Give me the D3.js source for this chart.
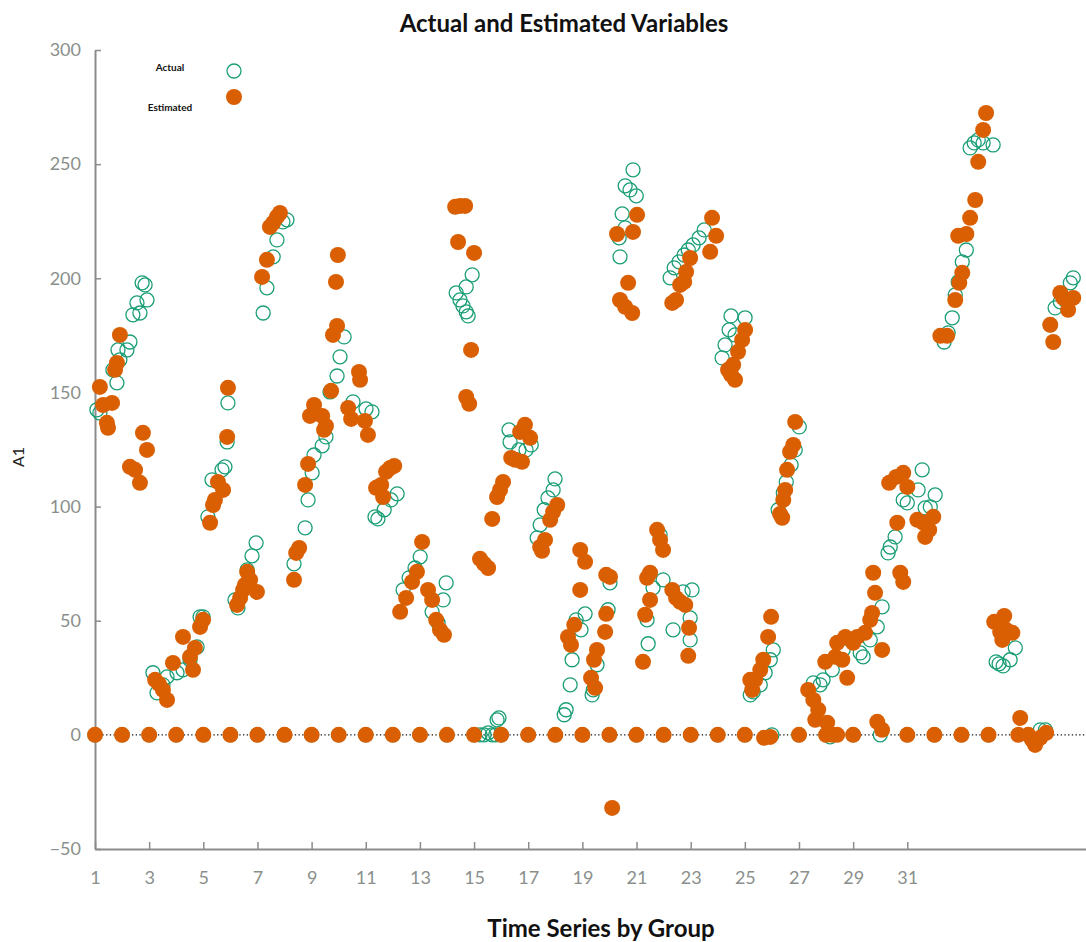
<!DOCTYPE html>
<html>
<head>
<meta charset="utf-8">
<script src="https://cdn.jsdelivr.net/npm/d3@7"></script>
<style>
  html, body { margin: 0; padding: 0; background: #fff; }
  svg { display: block; }
</style>
</head>
<body>
<svg id="chart" width="1086" height="942"></svg>
<script>
// Tick values
const xTicks = [1, 3, 5, 7, 9, 11, 13, 15, 17, 19, 21, 23, 25, 27, 29, 31];
const yTicks = [-50, 0, 50, 100, 150, 200, 250, 300];

// Groups whose first observation sits on zero
const zeroGroups = [1, 2, 3, 4, 5, 6, 7, 8, 9, 10, 11, 12, 13, 14, 15, 16, 17, 18, 19, 20,
                    21, 22, 23, 24, 25, 27, 28, 29, 31, 32, 33, 34];
const zeroGroupsActual = [1, 2, 3, 4, 5, 6, 7, 8, 9, 10, 11, 12, 13, 14, 15, 16, 17, 18, 19, 20,
                          21, 22, 23, 24, 25, 26, 27, 28, 29, 30, 31, 32, 33, 34];

// Actual values: [position on the group axis, A1]
const actualPoints = [
  [1.07,142.4],[1.18,141.0],[1.66,159.9],[1.81,154.2],[1.85,168.6],[1.92,164.3],[2.18,168.6],[2.29,172.1],[2.40,184.0],[2.55,189.2],[2.66,184.8],[2.74,198.0],[2.85,197.1],[2.92,190.5],
  [3.14,27.2],[3.29,18.4],[3.51,21.9],[3.66,25.4],[4.03,27.2],[4.25,28.5],[4.51,32.9],[4.77,38.5],[4.88,51.7],[4.99,51.7],
  [5.17,95.5],[5.32,111.7],[5.69,116.1],[5.80,117.4],[5.88,128.3],[5.91,145.4],
  [6.17,59.1],[6.28,55.6],[6.62,72.3],[6.80,78.4],[6.95,84.1],
  [7.21,184.8],[7.35,195.8],[7.58,209.4],[7.72,216.8],[7.94,224.7],[8.09,225.6],
  [8.35,74.9],[8.76,90.7],[8.87,102.9],[9.02,114.8],[9.09,122.6],[9.39,126.6],[9.53,130.5],[9.68,150.2],[9.94,157.2],[10.05,165.6],[10.20,174.3],
  [10.53,145.9],[11.01,142.8],[11.23,141.5],
  [11.34,95.5],[11.45,94.6],[11.68,98.6],[11.93,102.9],[12.16,105.6],
  [12.38,63.5],[12.60,68.8],[12.82,73.1],[13.01,78.0],
  [13.45,53.9],[13.67,49.1],[13.86,59.1],[13.97,66.6],
  [14.34,193.6],[14.48,190.5],[14.59,187.9],[14.71,185.3],[14.78,183.5],[14.71,196.2],[14.93,201.5],
  [15.22,0],[15.37,0],[15.52,0.9],[15.67,0],[15.80,0],[15.85,6.6],[15.92,7.4],
  [16.29,133.6],[16.33,128.3],[16.66,124.8],[16.92,124.8],[17.11,127.0],
  [17.33,86.3],[17.44,92.0],[17.59,98.6],[17.73,103.8],[17.92,107.3],[17.99,112.1],
  [18.33,8.8],[18.40,11.0],[18.55,21.9],[18.62,32.9],[18.77,50.4],[18.95,46.0],[19.10,53.0],
  [19.36,17.5],[19.40,19.7],[19.54,30.7],[19.95,54.8],[20.02,66.6],
  [20.36,217.7],[20.39,209.4],[20.47,228.2],[20.58,222.1],[20.58,240.5],[20.76,238.7],[20.87,247.5],[20.99,236.1],
  [21.39,50.4],[21.43,39.9],[21.61,64.4],[21.87,87.6],[21.98,67.9],
  [22.35,46.0],[22.72,62.6],[22.98,51.2],[22.98,41.6],[23.05,63.5],
  [22.24,200.2],[22.39,204.6],[22.57,207.2],[22.76,210.2],[22.91,212.4],[23.09,214.6],[23.31,217.7],[23.50,221.2],
  [24.16,165.1],[24.27,170.8],[24.42,177.4],[24.49,183.5],[24.64,175.2],[25.01,182.7],
  [25.20,17.5],[25.31,18.8],[25.57,21.9],[25.75,27.2],[25.94,32.9],[26.05,37.2],
  [26.23,98.6],[26.42,106.0],[26.53,110.8],[26.71,118.3],[26.86,124.8],[27.01,134.9],
  [27.53,22.8],[27.78,21.9],[27.89,24.1],[28.15,-0.9],[28.23,28.5],[28.63,37.2],[28.89,41.6],[29.26,35.9],[29.37,34.2],[29.63,41.6],[29.89,47.3],[30.07,56.1],
  [30.29,79.7],[30.37,82.3],[30.55,86.7],[30.85,102.9],[31.00,101.6],[31.40,107.3],[31.55,116.1],[31.66,99.4],[31.85,99.9],[32.03,105.1],
  [32.36,172.1],[32.51,176.1],[32.66,182.7],[32.77,192.7],[32.88,198.4],[33.03,207.2],[33.18,212.4],[33.32,257.1],[33.47,259.3],[33.62,260.6],[33.80,259.3],[34.17,258.4],
  [34.28,32.0],[34.39,31.1],[34.54,30.2],[34.80,32.9],[34.99,38.1],
  [35.91,2.2],[36.10,2.2],
  [36.28,179.6],[36.46,187.0],[36.65,189.7],[36.83,190.5],[37.02,198.0],[37.13,200.2]
];

// Estimated values: [position on the group axis, A1]
const estimatedPoints = [
  [1.18,152.4],[1.30,144.5],[1.44,136.7],[1.48,134.5],[1.63,145.4],[1.74,159.9],[1.81,162.9],[1.92,175.2],[2.29,117.4],[2.48,116.1],[2.66,110.4],[2.77,132.3],[2.92,124.8],
  [3.22,24.1],[3.36,22.3],[3.51,19.7],[3.66,15.3],[3.88,31.5],[4.25,42.9],[4.51,34.2],[4.62,28.5],[4.69,38.1],[4.88,47.3],[4.99,50.4],
  [5.25,92.9],[5.36,100.7],[5.43,102.9],[5.54,110.8],[5.73,107.3],[5.88,130.5],[5.91,152.0],
  [6.25,56.9],[6.36,60.0],[6.47,63.5],[6.54,65.7],[6.62,71.4],[6.73,67.9],[6.98,62.6],
  [7.17,200.6],[7.35,208.1],[7.46,222.5],[7.58,224.3],[7.72,226.9],[7.83,228.6],
  [8.35,67.9],[8.43,79.7],[8.54,81.9],[8.76,109.5],[8.87,118.7],[8.94,139.7],[9.09,144.5],[9.39,139.7],[9.46,133.6],[9.53,135.3],[9.72,150.7],[9.79,175.2],[9.94,179.1],[9.90,198.4],[9.97,210.2],
  [10.35,143.2],[10.46,138.4],[10.75,159.0],[10.79,155.5],[10.97,137.5],[11.08,131.4],
  [11.38,108.2],[11.57,109.5],[11.64,104.2],[11.75,115.2],[11.90,116.9],[12.05,117.8],
  [12.27,53.9],[12.49,60.0],[12.71,67.0],[12.89,71.4],[13.08,84.5],
  [13.30,63.5],[13.45,59.1],[13.60,50.4],[13.74,46.0],[13.89,43.8],
  [14.30,231.3],[14.41,215.9],[14.48,231.7],[14.67,231.7],[14.71,148.0],[14.82,145.0],[14.89,168.6],[15.00,211.1],
  [15.22,77.1],[15.37,74.9],[15.52,73.1],[15.67,94.6],[15.85,104.2],[15.96,107.3],[16.07,110.8],
  [16.37,121.3],[16.52,120.5],[16.70,132.7],[16.77,119.6],[16.88,135.8],[17.07,130.1],
  [17.44,82.3],[17.51,80.6],[17.62,85.4],[17.81,94.2],[17.92,97.7],[18.07,100.7],
  [18.47,42.9],[18.58,39.4],[18.70,48.2],[18.92,63.5],[18.92,81.0],[19.10,75.8],
  [19.32,25.0],[19.43,32.9],[19.47,20.6],[19.54,37.2],[19.84,45.1],[19.88,53.0],[19.88,70.1],[20.02,69.2],[20.10,-32.0],
  [20.28,219.4],[20.39,190.5],[20.58,187.5],[20.69,198.0],[20.84,184.8],[20.87,220.3],[21.02,227.8],
  [21.24,32.0],[21.32,52.6],[21.39,68.8],[21.50,71.0],[21.50,59.1],[21.76,89.8],[21.87,85.4],[21.98,81.0],
  [22.32,63.5],[22.46,60.0],[22.61,58.3],[22.80,56.9],[22.91,34.6],[22.94,46.9],
  [22.32,189.2],[22.46,190.5],[22.61,197.1],[22.76,198.4],[22.83,202.8],[22.98,208.9],[23.72,211.6],[23.79,226.5],[23.94,218.6],
  [24.38,159.9],[24.49,157.7],[24.57,162.1],[24.64,155.5],[24.75,167.8],[24.90,173.0],[25.01,177.4],
  [25.20,24.1],[25.27,19.7],[25.38,24.1],[25.57,28.5],[25.68,32.9],[25.86,42.9],[25.97,51.7],
  [25.71,-1.3],[25.94,-0.9],
  [26.30,96.8],[26.38,95.1],[26.42,102.9],[26.49,107.3],[26.56,116.1],[26.67,124.0],[26.79,127.0],[26.86,137.1],
  [27.34,19.7],[27.53,15.3],[27.60,6.6],[27.71,11.0],[27.97,32.0],[28.04,5.3],[28.23,0],[28.34,34.2],[28.41,40.3],[28.41,0],[28.60,32.9],[28.71,42.9],[28.78,25.0],[29.00,40.3],[29.15,42.9],[29.44,44.7],[29.63,50.4],[29.70,53.4],[29.74,71.0],[29.81,62.2],[30.07,37.2],
  [29.89,5.7],[30.07,2.2],
  [30.33,110.4],[30.59,113.0],[30.63,92.9],[30.74,71.0],[30.85,114.8],[30.85,67.0],[31.00,108.6],[31.37,94.2],[31.59,92.9],[31.66,86.7],[31.81,89.8],[31.96,95.5],
  [32.22,174.8],[32.47,174.8],[32.77,190.5],[32.88,218.6],[32.92,198.0],[33.03,202.4],[33.18,219.4],[33.32,226.5],[33.51,234.3],[33.62,251.0],[33.80,265.0],[33.91,272.4],
  [34.21,49.5],[34.43,45.1],[34.51,41.6],[34.58,52.1],[34.65,46.0],[34.88,44.7],
  [35.10,0],[35.17,7.4],[35.47,0],[35.61,-2.2],[35.72,-4.4],[35.91,-1.3],[36.13,0.9],
  [36.28,179.6],[36.39,172.1],[36.65,193.6],[36.76,191.4],[36.94,186.2],[37.13,191.4]
];

const seriesNames = ["Actual", "Estimated"];
const colors = { actual: "#1b9e77", estimated: "#d95f02" };

const svg = d3.select("#chart");
const W = 1086, H = 942;
const margin = { left: 95, right: 0, top: 50, bottom: 93 };

const x = d3.scaleLinear().domain([1, 37.6]).range([margin.left, W - margin.right]);
const y = d3.scaleLinear().domain([-50, 300]).range([H - margin.bottom, margin.top]);

const fontFamily = "Lato, 'Open Sans', 'Liberation Sans', sans-serif";

// Title
svg.append("text")
  .attr("x", 564).attr("y", 32)
  .attr("text-anchor", "middle")
  .style("font-family", fontFamily)
  .style("font-weight", "bold")
  .style("font-size", "24px")
  .attr("fill", "#111")
  .text("Actual and Estimated Variables");

// Dotted zero reference line
svg.append("line")
  .attr("x1", x(1)).attr("x2", W)
  .attr("y1", y(0)).attr("y2", y(0))
  .attr("stroke", "#111")
  .attr("stroke-width", 1.3)
  .attr("stroke-dasharray", "1.3,2.4");

// Axes
const yAxis = d3.axisLeft(y).tickValues(yTicks).tickSizeInner(-6).tickSizeOuter(0).tickPadding(14);
const xAxis = d3.axisBottom(x).tickValues(xTicks).tickSizeInner(-7).tickSizeOuter(0).tickPadding(22).tickFormat(d3.format("d"));

const gy = svg.append("g").attr("transform", `translate(${margin.left},0)`).call(yAxis);
const gx = svg.append("g").attr("transform", `translate(0,${H - margin.bottom})`).call(xAxis);

[gx, gy].forEach(g => {
  g.select(".domain").attr("stroke", "#8c8c8c").attr("stroke-width", 2);
  g.selectAll(".tick line").attr("stroke", "#8c8c8c").attr("stroke-width", 1.5);
  g.selectAll(".tick text")
    .attr("fill", "#8a8f8c")
    .style("font-family", fontFamily)
    .style("font-size", "18px");
});

// Axis titles
svg.append("text")
  .attr("x", 601).attr("y", 937)
  .attr("text-anchor", "middle")
  .style("font-family", fontFamily)
  .style("font-weight", "bold")
  .style("font-size", "24px")
  .attr("fill", "#111")
  .text("Time Series by Group");

svg.append("text")
  .attr("transform", "translate(24,457) rotate(-90)")
  .attr("text-anchor", "middle")
  .style("font-family", fontFamily)
  .style("font-size", "16px")
  .attr("fill", "#222")
  .text("A1");

// Marks: actual as hollow circles, estimated as filled circles on top
const plot = svg.append("g");

const actualAll = zeroGroupsActual.map(g => [g, 0]).concat(actualPoints);
const estimatedAll = zeroGroups.map(g => [g, 0]).concat(estimatedPoints);

plot.append("g").selectAll("circle")
  .data(actualAll)
  .join("circle")
  .attr("cx", d => x(d[0]))
  .attr("cy", d => y(d[1]))
  .attr("r", 7)
  .attr("fill", "none")
  .attr("stroke", colors.actual)
  .attr("stroke-width", 1.3);

plot.append("g").selectAll("circle")
  .data(estimatedAll)
  .join("circle")
  .attr("cx", d => x(d[0]))
  .attr("cy", d => y(d[1]))
  .attr("r", 8)
  .attr("fill", colors.estimated);

// Legend
const legend = svg.append("g");
const legendRows = [
  { name: seriesNames[0], textY: 71, markY: 71, key: "actual" },
  { name: seriesNames[1], textY: 111, markY: 97, key: "estimated" }
];
legendRows.forEach(r => {
  legend.append("text")
    .attr("x", 170).attr("y", r.textY)
    .attr("text-anchor", "middle")
    .style("font-family", fontFamily)
    .style("font-weight", "bold")
    .style("font-size", "10px")
    .attr("fill", "#111")
    .text(r.name);
  const c = legend.append("circle").attr("cx", 234).attr("cy", r.markY);
  if (r.key === "actual") {
    c.attr("r", 7).attr("fill", "none").attr("stroke", colors.actual).attr("stroke-width", 1.3);
  } else {
    c.attr("r", 8).attr("fill", colors.estimated);
  }
});
</script>
</body>
</html>
